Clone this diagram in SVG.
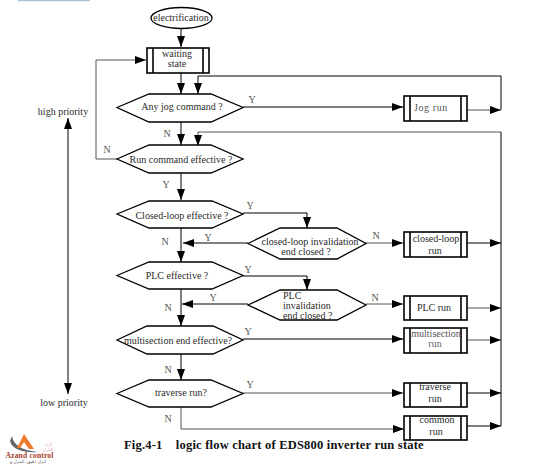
<svg xmlns="http://www.w3.org/2000/svg" width="552" height="466" viewBox="0 0 552 466">
<style>
text{font-family:"Liberation Serif","Times New Roman",serif;font-size:10px;fill:#2b2b2b}
.m{text-anchor:middle}
.s{fill:#fff;stroke:#000;stroke-width:1.3}
.c{fill:none;stroke:#000;stroke-width:1}
.g{stroke:#555}
.b{fill:#fff;stroke:#000;stroke-width:1.6}
.l{fill:#555}
.cap{font-weight:bold;font-size:12.5px;fill:#111;letter-spacing:.2px}
.fa{font-family:"DejaVu Sans",sans-serif;font-size:4.5px;text-anchor:middle}
</style>
<defs>
<marker id="a" markerUnits="userSpaceOnUse" markerWidth="12" markerHeight="10" refX="11" refY="5" orient="auto"><path d="M0 1 L11 5 L0 9 Z" fill="#000"/></marker>
<marker id="as" markerUnits="userSpaceOnUse" markerWidth="12" markerHeight="10" refX="0" refY="5" orient="auto"><path d="M11 1 L0 5 L11 9 Z" fill="#000"/></marker>
</defs>
<rect x="18" y="0" width="72" height="1.2" fill="#a9c4d8"/>
<g id="connectors">
<path class="c" marker-end="url(#a)" d="M181 28V47"/>
<path class="c" marker-end="url(#a)" d="M181 73V94"/>
<path class="c" marker-end="url(#a)" d="M181 122V145"/>
<path class="c" marker-end="url(#a)" d="M181 173V200"/>
<path class="c" marker-end="url(#a)" d="M181 228V262"/>
<path class="c" marker-end="url(#a)" d="M181 289V326"/>
<path class="c" marker-end="url(#a)" d="M181 354V380"/>
<path class="c" marker-end="url(#a)" d="M501 110V76H198V94"/>
<path class="c g" marker-end="url(#a)" d="M501 132H198V146"/>
<path class="c" d="M501 132V426"/>
<path class="c" marker-end="url(#a)" d="M243 107H403"/>
<path class="c g" marker-end="url(#a)" d="M467 110H501"/>
<path class="c g" marker-end="url(#a)" d="M117 159H96V60H146"/>
<path class="c" marker-end="url(#a)" d="M243 213H307V228"/>
<path class="c" marker-end="url(#a)" d="M248 243H183"/>
<path class="c g" marker-end="url(#a)" d="M366 243H403"/>
<path class="c" marker-end="url(#a)" d="M467 243H501"/>
<path class="c" marker-end="url(#a)" d="M243 276H307V290"/>
<path class="c" marker-end="url(#a)" d="M248 304H182"/>
<path class="c g" marker-end="url(#a)" d="M366 304H403"/>
<path class="c g" marker-end="url(#a)" d="M467 308H501"/>
<path class="c" marker-end="url(#a)" d="M243 339H403"/>
<path class="c g" marker-end="url(#a)" d="M467 340H501"/>
<path class="c g" marker-end="url(#a)" d="M243 393H403"/>
<path class="c" marker-end="url(#a)" d="M467 393H501"/>
<path class="c g" marker-end="url(#a)" d="M181 407V429H404"/>
<path class="c" marker-end="url(#a)" d="M467 426H501"/>
<path class="c" marker-start="url(#as)" marker-end="url(#a)" d="M68 118V394"/>
</g>
<g id="labels">
<text class="l m" x="167" y="137">N</text>
<text class="l m" x="252" y="103">Y</text>
<text class="l m" x="107" y="153">N</text>
<text class="l m" x="166" y="188">Y</text>
<text class="l m" x="250" y="209">Y</text>
<text class="l m" x="165" y="245">N</text>
<text class="l m" x="208" y="241">Y</text>
<text class="l m" x="376" y="239">N</text>
<text class="l m" x="248" y="273">Y</text>
<text class="l m" x="213" y="301">Y</text>
<text class="l m" x="168" y="311">N</text>
<text class="l m" x="375" y="301">N</text>
<text class="l m" x="248" y="335">Y</text>
<text class="l m" x="168" y="373">N</text>
<text class="l m" x="250" y="388">Y</text>
<text class="l m" x="168" y="422">N</text>
<text class="m" x="63" y="115">high priority</text>
<text class="m" x="64" y="406">low priority</text>
</g>
<g id="n-electrification"><ellipse class="s" cx="181.500" cy="18" rx="30.500" ry="10.500"/><text class="m" x="181" y="21">electrification</text></g>
<g id="n-waiting"><rect class="b" x="147" y="48" width="62" height="25"/><path class="b" d="M153 48V73M203 48V73"/><text class="m" x="177" y="57">waiting</text><text class="m" x="177" y="67">state</text></g>
<g id="n-jog-q"><polygon class="s" points="117,107.500 149,94 211,94 243,107.500 211,122 149,122"/><text class="m" x="182" y="110">Any jog command ?</text></g>
<g id="n-run-q"><polygon class="s" points="117,159 149,145 211,145 243,159 211,173 149,173"/><text class="m" x="181" y="163">Run command effective ?</text></g>
<g id="n-closed-q"><polygon class="s" points="117,214 149,201 212,201 243,214 212,228 149,228"/><text class="m" x="182" y="219">Closed-loop effective ?</text></g>
<g id="n-closed-inv"><polygon class="s" points="248,243.500 280,228 337,228 366,243.500 337,259 280,259"/><text class="m" x="310" y="245">closed-loop invalidation</text><text class="m" x="306" y="255">end closed ?</text></g>
<g id="n-plc-q"><polygon class="s" points="117,275.500 149,262 212,262 243,275.500 212,289 149,289"/><text class="m" x="177" y="279">PLC effective ?</text></g>
<g id="n-plc-inv"><polygon class="s" points="248,305 280,290 337,290 366,305 337,320 280,320"/><text x="283" y="299">PLC</text><text x="283" y="308.500">invalidation</text><text x="283" y="319">end closed ?</text></g>
<g id="n-multi-q"><polygon class="s" points="117,340 147,326 213,326 243,340 213,354 147,354"/><text class="m" x="178" y="344">multisection end effective?</text></g>
<g id="n-traverse-q"><polygon class="s" points="117,393.500 149,380 211,380 243,393.500 211,407 149,407"/><text class="m" x="181" y="395.500">traverse run?</text></g>
<g id="n-jog"><rect class="b" x="404" y="96" width="63" height="25"/><path class="b" d="M410 96V121M461 96V121"/><text x="414" y="111" style="fill:#555;letter-spacing:.6px">Jog run</text></g>
<g id="n-closed"><rect class="b" x="404" y="232" width="63" height="25"/><path class="b" d="M410 232V257M461 232V257"/><text class="m" x="436" y="242">closed-loop</text><text class="m" x="435" y="254">run</text></g>
<g id="n-plc"><rect class="b" x="404" y="296" width="63" height="24"/><path class="b" d="M410 296V320M461 296V320"/><text class="m" x="434" y="311">PLC run</text></g>
<g id="n-multi"><rect class="b" x="404" y="328" width="63" height="25"/><path class="b" d="M410 328V353M461 328V353"/><text class="m" x="436" y="337" style="fill:#555">multisection</text><text class="m" x="435" y="347" style="fill:#666">run</text></g>
<g id="n-traverse"><rect class="b" x="404" y="383" width="63" height="24"/><path class="b" d="M410 383V407M461 383V407"/><text class="m" x="435" y="390">traverse</text><text class="m" x="435" y="402">run</text></g>
<g id="n-common"><rect class="b" x="404" y="416" width="63" height="24"/><path class="b" d="M410 416V440M461 416V440"/><text class="m" x="437" y="423">common</text><text class="m" x="436" y="435">run</text></g>
<text class="cap" x="124" y="449" xml:space="preserve">Fig.4-1    logic flow chart of EDS800 inverter run state</text>
<g id="logo">
<path d="M12 436C13 445 22 450 37 452C25 453 12 450 10 441Z" fill="#666"/>
<polygon points="24,434 34,449 29,449 24,442 20,448 17,448" fill="#ee7a2d"/>
<text x="5.500" y="458" style="font-size:7.500px;font-weight:bold;fill:#a5402c;letter-spacing:.2px">Azand control</text>
<text class="fa" x="28" y="463" direction="rtl" style="fill:#555">ابزار دقیق، کنترل و</text>
<text class="fa" x="48" y="446" direction="rtl" style="fill:#e8a0a8">آزند</text>
<text class="fa" x="48" y="451" direction="rtl" style="fill:#e8a0a8">کنترل</text>
</g>
</svg>
